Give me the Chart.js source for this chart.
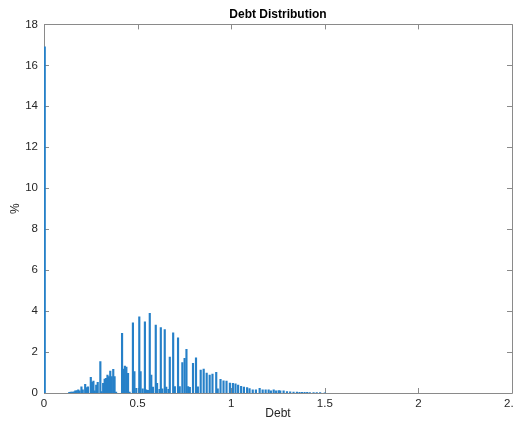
<!DOCTYPE html>
<html lang="en">
<head>
    <meta charset="UTF-8">
    <title>Debt Distribution</title>
    <script src="https://cdn.jsdelivr.net/npm/chart.js"></script>
    <style>
        html, body {
            margin: 0;
            padding: 0;
            background: #ffffff;
            overflow: hidden;
        }
        .chart-box {
            width: 514px;
            height: 425px;
            overflow: hidden;
        }
    </style>
</head>
<body>
    <div class="chart-box">
        <canvas id="debtChart" width="524" height="425"></canvas>
    </div>

    <script>
        // bin centres (debt) and share of observations (%)
        const debtBins = [
            0.004,
            0.135, 0.143, 0.151, 0.159, 0.167, 0.175, 0.183, 0.190, 0.200, 0.207,
            0.220, 0.227, 0.235, 0.250, 0.256, 0.264, 0.271, 0.279, 0.287, 0.301,
            0.307, 0.316, 0.324, 0.331, 0.339, 0.347, 0.354, 0.362, 0.370, 0.377,
            0.385, 0.417, 0.425, 0.432, 0.440, 0.449, 0.457, 0.475, 0.483, 0.493,
            0.509, 0.516, 0.527, 0.539, 0.546, 0.555, 0.565, 0.573, 0.582, 0.597,
            0.604, 0.617, 0.624, 0.632, 0.645, 0.653, 0.665, 0.672, 0.690, 0.699,
            0.716, 0.725, 0.739, 0.751, 0.761, 0.770, 0.779, 0.796, 0.812, 0.822,
            0.837, 0.853, 0.869, 0.885, 0.900, 0.920, 0.928, 0.943, 0.959, 0.975,
            0.993, 1.009, 1.023, 1.037, 1.053, 1.068, 1.085, 1.098, 1.115, 1.132,
            1.152, 1.168, 1.184, 1.200, 1.212, 1.227, 1.240, 1.254, 1.262, 1.280,
            1.298, 1.315, 1.333, 1.351, 1.365, 1.378, 1.392, 1.406, 1.420, 1.440,
            1.457, 1.475, 1.500
        ];
        const percentValues = [
            16.9,
            0.03, 0.04, 0.05, 0.06, 0.10, 0.12, 0.16, 0.10, 0.30, 0.15,
            0.42, 0.26, 0.30, 0.76, 0.52, 0.58, 0.10, 0.39, 0.52, 1.53,
            0.07, 0.47, 0.68, 0.72, 0.88, 0.80, 1.07, 0.80, 1.15, 0.80,
            0.05, 2.91, 1.17, 1.32, 1.27, 0.96, 0.05, 3.43, 1.04, 0.23,
            3.72, 1.04, 0.20, 3.48, 0.15, 0.13, 3.89, 0.88, 0.29, 3.32,
            0.47, 0.18, 3.20, 0.20, 3.10, 0.29, 0.18, 1.75, 2.94, 0.31,
            2.70, 0.31, 1.48, 1.69, 2.13, 0.31, 0.28, 1.45, 1.72, 0.30,
            1.12, 1.17, 0.97, 0.88, 0.92, 1.01, 0.20, 0.67, 0.60, 0.58,
            0.48, 0.47, 0.45, 0.39, 0.32, 0.29, 0.26, 0.22, 0.16, 0.15,
            0.23, 0.15, 0.15, 0.16, 0.11, 0.15, 0.10, 0.12, 0.10, 0.10,
            0.07, 0.06, 0.05, 0.04, 0.03, 0.03, 0.03, 0.03, 0.02, 0.02,
            0.02, 0.02, 0.01
        ];
        const xTicks = [0, 0.5, 1, 1.5, 2, 2.5];
        const yTicks = [0, 2, 4, 6, 8, 10, 12, 14, 16, 18];

        const axisGrey = '#8a8a8a';
        const labelColor = '#262626';
        const fontFamily = '"Liberation Sans", Arial, Helvetica, sans-serif';

        // MATLAB style box with inward ticks
        const axesBox = {
            id: 'axesBox',
            beforeDatasetsDraw(chart) {
                const ctx = chart.ctx;
                const a = chart.chartArea;
                const xs = chart.scales.x;
                const ys = chart.scales.y;
                const len = 5;
                ctx.save();
                ctx.strokeStyle = axisGrey;
                ctx.lineWidth = 1;
                ctx.beginPath();
                ctx.rect(Math.round(a.left) + 0.5, Math.round(a.top) + 0.5,
                    Math.round(a.right - a.left), Math.round(a.bottom - a.top));
                xTicks.forEach(v => {
                    const px = Math.round(xs.getPixelForValue(v)) + 0.5;
                    ctx.moveTo(px, a.bottom);
                    ctx.lineTo(px, a.bottom - len);
                    ctx.moveTo(px, a.top);
                    ctx.lineTo(px, a.top + len);
                });
                yTicks.forEach(v => {
                    const py = Math.round(ys.getPixelForValue(v)) + 0.5;
                    ctx.moveTo(a.left, py);
                    ctx.lineTo(a.left + len, py);
                    ctx.moveTo(a.right, py);
                    ctx.lineTo(a.right - len, py);
                });
                ctx.stroke();
                ctx.restore();
            }
        };

        new Chart(document.getElementById('debtChart').getContext('2d'), {
            type: 'bar',
            data: {
                datasets: [{
                    data: debtBins.map((d, i) => ({ x: d, y: percentValues[i] })),
                    backgroundColor: 'rgb(38, 128, 200)',
                    borderWidth: 0,
                    barThickness: 1.5
                }]
            },
            options: {
                responsive: false,
                animation: false,
                layout: {
                    padding: { left: 0, right: 0, top: 0, bottom: 0 }
                },
                scales: {
                    x: {
                        type: 'linear',
                        min: 0,
                        max: 2.5,
                        offset: false,
                        afterBuildTicks: scale => {
                            scale.ticks = xTicks.map(v => ({ value: v }));
                        },
                        afterFit: scale => { scale.height = 32; },
                        ticks: {
                            color: labelColor,
                            font: { family: fontFamily, size: 11.5 },
                            padding: 4,
                            maxRotation: 0,
                            callback: v => String(v)
                        },
                        grid: { display: false, drawTicks: false },
                        border: { display: false },
                        title: {
                            display: true,
                            text: 'Debt',
                            color: labelColor,
                            font: { family: fontFamily, size: 12 },
                            padding: { top: 0, bottom: 4 }
                        }
                    },
                    y: {
                        min: 0,
                        max: 18,
                        afterBuildTicks: scale => {
                            scale.ticks = yTicks.map(v => ({ value: v }));
                        },
                        afterFit: scale => { scale.width = 44; },
                        ticks: {
                            color: labelColor,
                            font: { family: fontFamily, size: 11.5 },
                            padding: 6
                        },
                        grid: { display: false, drawTicks: false },
                        border: { display: false },
                        title: {
                            display: true,
                            text: '%',
                            color: labelColor,
                            font: { family: fontFamily, size: 12 },
                            padding: { top: 8, bottom: 0 }
                        }
                    }
                },
                plugins: {
                    legend: { display: false },
                    tooltip: { enabled: false },
                    title: {
                        display: true,
                        fullSize: false,
                        text: 'Debt Distribution',
                        color: '#000000',
                        font: { family: fontFamily, size: 12, weight: 'bold' },
                        padding: { top: 7, bottom: 3 }
                    }
                }
            },
            plugins: [axesBox]
        });
    </script>
</body>
</html>
